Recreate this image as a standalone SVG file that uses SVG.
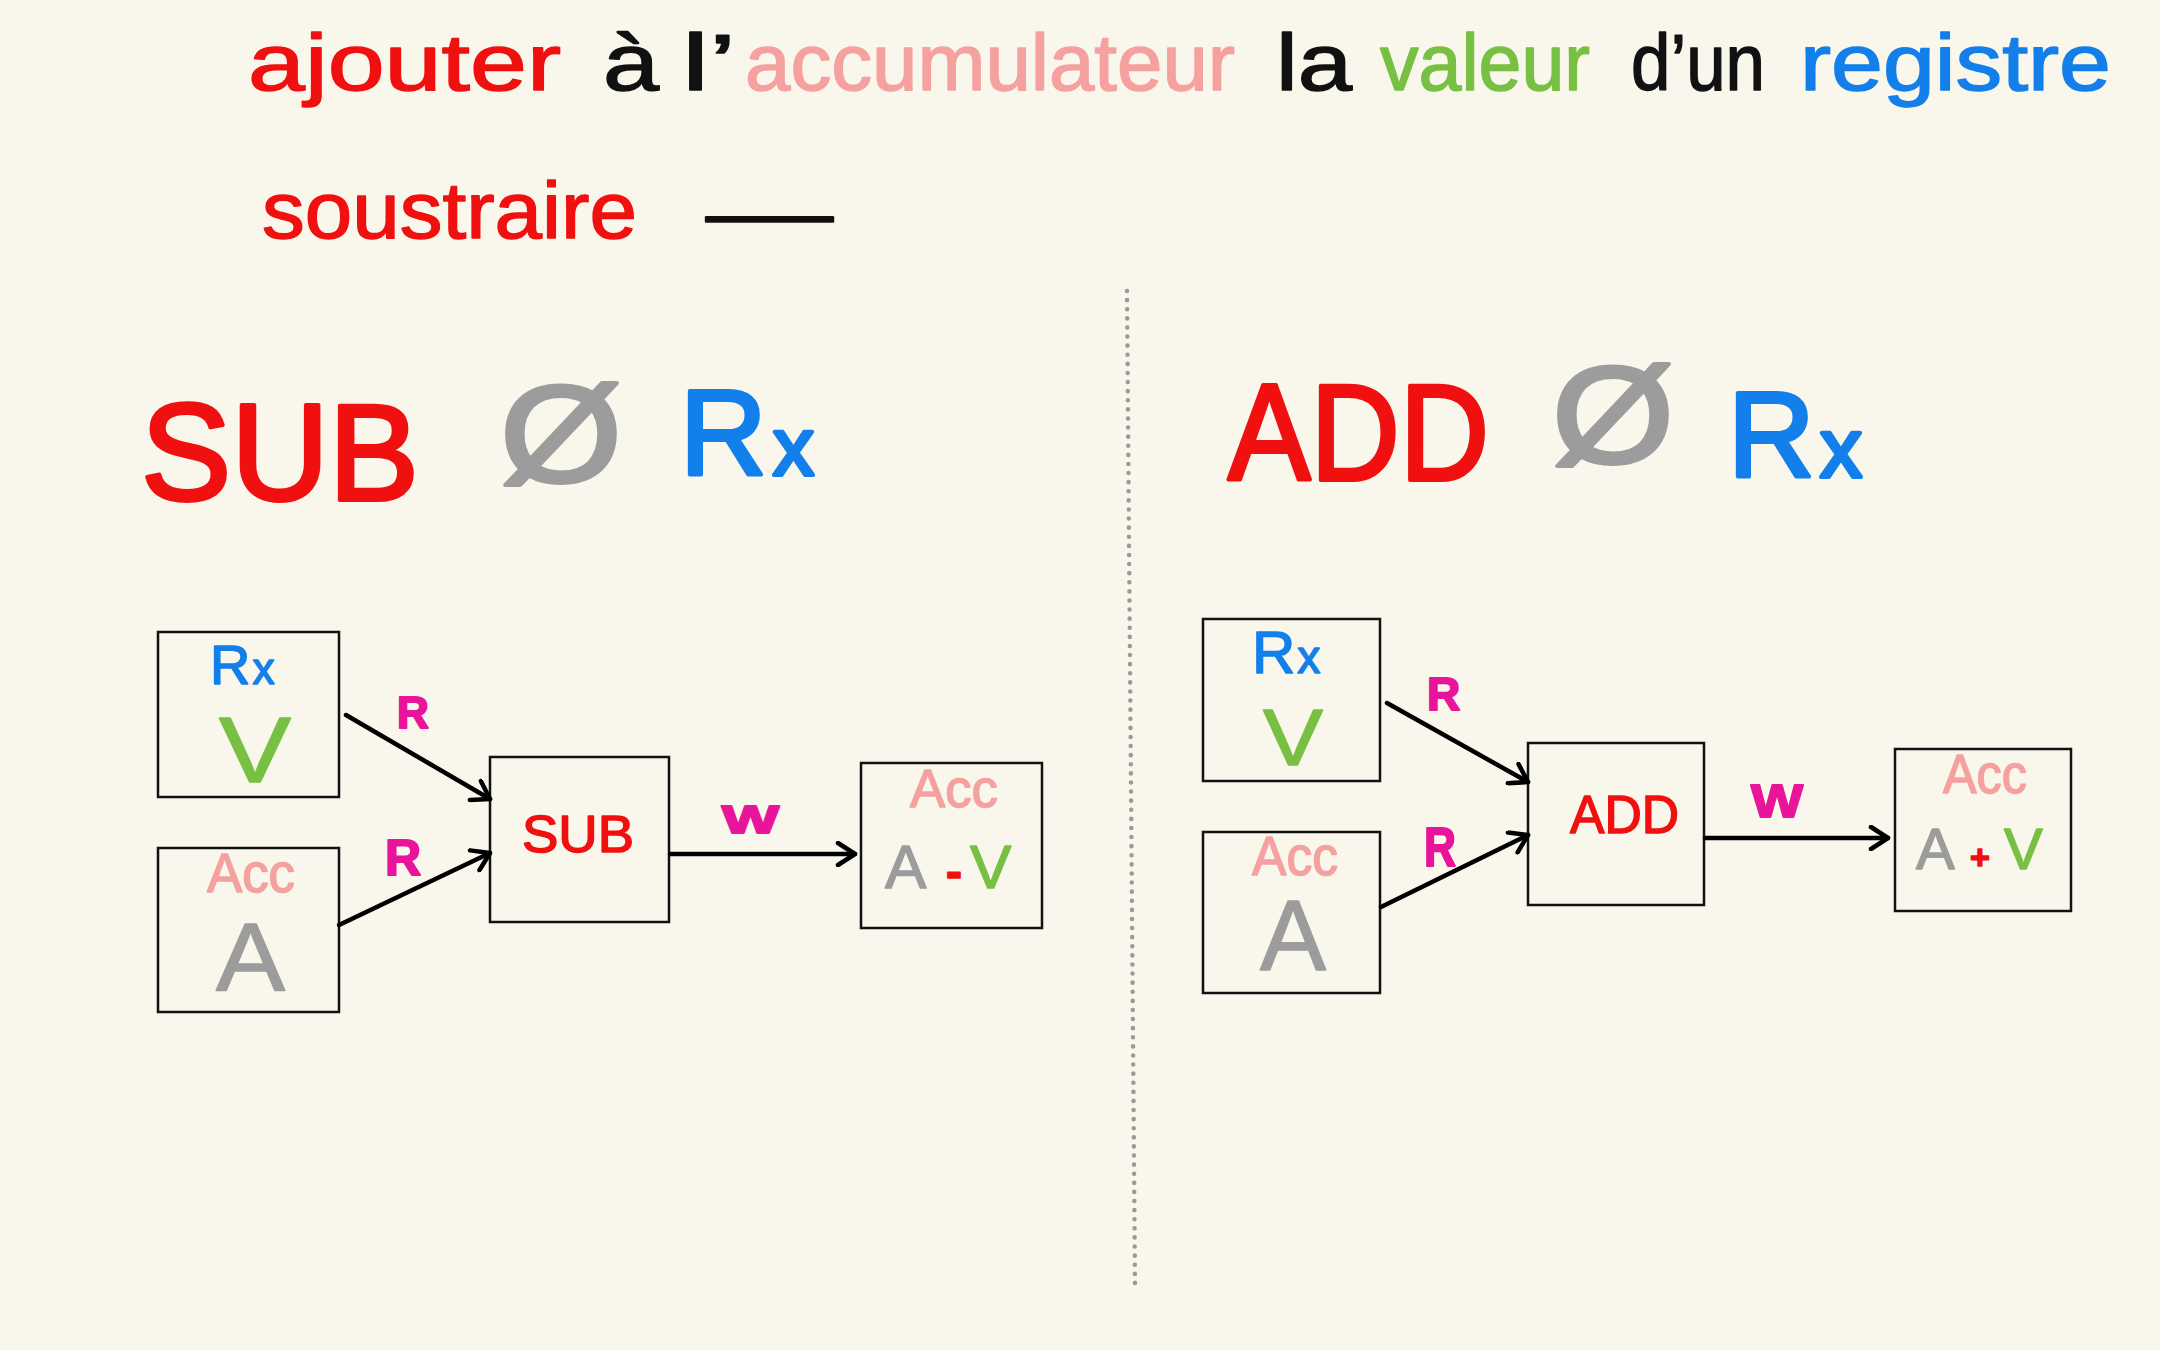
<svg xmlns="http://www.w3.org/2000/svg" width="2160" height="1350" viewBox="0 0 2160 1350">
<defs>
<style>
text{font-family:"Liberation Sans",Arial,sans-serif;}
.hw{font-size:80px;stroke-width:1.5px;stroke-linejoin:round;}
.head{font-size:138px;stroke-width:4px;stroke-linejoin:round;}
.red{fill:#F01010;stroke:#F01010;}
.blk{fill:#111;stroke:#111;}
.pink{fill:#F5A1A0;stroke:#F5A1A0;}
.grn{fill:#78C043;stroke:#78C043;}
.blue{fill:#137FEA;stroke:#137FEA;}
.gray{fill:#9C9C9C;stroke:#9C9C9C;}
.mag{fill:#E8159A;stroke:#E8159A;font-weight:bold;stroke-width:2px;stroke-linejoin:round;}
.box{fill:none;stroke:#111;stroke-width:2.5;}
.conn{stroke:#000;stroke-width:4.5;fill:none;stroke-linecap:round;marker-end:url(#ah);}
.lbl{stroke-width:1.5px;stroke-linejoin:round;}
</style>
<marker id="ah" viewBox="0 0 26 26" refX="23" refY="13" markerWidth="26" markerHeight="26" markerUnits="userSpaceOnUse" orient="auto">
<path d="M6,2 L23,13 L6,24" fill="none" stroke="#000" stroke-width="4.5" stroke-linecap="round" stroke-linejoin="round"/>
</marker>
</defs>
<rect width="2160" height="1350" fill="#F9F7EC"/>

<g id="title">
<text class="hw red" x="248" y="90" textLength="313" lengthAdjust="spacingAndGlyphs">ajouter</text>
<text class="hw blk" x="603" y="90" textLength="56" lengthAdjust="spacingAndGlyphs">à</text>
<text class="hw blk" x="682" y="90" textLength="54" lengthAdjust="spacingAndGlyphs">l’</text>
<text class="hw pink" x="745" y="90" textLength="490" lengthAdjust="spacingAndGlyphs">accumulateur</text>
<text class="hw blk" x="1276" y="90" textLength="76" lengthAdjust="spacingAndGlyphs">la</text>
<text class="hw grn" x="1380" y="90" textLength="210" lengthAdjust="spacingAndGlyphs">valeur</text>
<text class="hw blk" x="1631" y="90" textLength="134" lengthAdjust="spacingAndGlyphs">d’un</text>
<text class="hw blue" x="1800" y="90" textLength="311" lengthAdjust="spacingAndGlyphs">registre</text>
<text class="hw red" x="262" y="238" font-size="78" textLength="375" lengthAdjust="spacingAndGlyphs">soustraire</text>
<text class="hw blk" x="706" y="240" font-size="72" textLength="127" lengthAdjust="spacingAndGlyphs">—</text>
</g>

<g id="heading-sub">
<text class="head red" x="141" y="500" textLength="278" lengthAdjust="spacingAndGlyphs">SUB</text>
<text class="head gray" x="500" y="482" font-size="116" stroke-width="1" textLength="122" lengthAdjust="spacingAndGlyphs">Ø</text>
<text class="head blue" y="475" stroke-width="2"><tspan x="680" font-size="120">R</tspan><tspan x="773" font-size="82">x</tspan></text>
</g>

<g id="heading-add">
<text class="head red" x="1228" y="480" textLength="261" lengthAdjust="spacingAndGlyphs">ADD</text>
<text class="head gray" x="1552" y="463" font-size="112" stroke-width="1" textLength="122" lengthAdjust="spacingAndGlyphs">Ø</text>
<text class="head blue" y="477" stroke-width="2"><tspan x="1728" font-size="120">R</tspan><tspan x="1820" font-size="84">x</tspan></text>
</g>

<line x1="1127" y1="291" x2="1135" y2="1284" stroke="#9A9A9A" stroke-width="4.5" stroke-dasharray="0.1 9" stroke-linecap="round"/>

<g id="sub-rx">
<rect class="box" x="158" y="632" width="181" height="165"/>
<text class="lbl blue" x="210" y="684" font-size="56"><tspan>R</tspan><tspan font-size="44" dx="2">x</tspan></text>
<text class="lbl grn" x="219" y="782" font-size="92" textLength="72" lengthAdjust="spacingAndGlyphs">V</text>
</g>
<g id="sub-acc">
<rect class="box" x="158" y="848" width="181" height="164"/>
<text class="lbl pink" x="207" y="892" font-size="55" textLength="88" lengthAdjust="spacingAndGlyphs">Acc</text>
<text class="lbl gray" x="216" y="990" font-size="97" textLength="69" lengthAdjust="spacingAndGlyphs">A</text>
</g>
<g id="sub-op">
<rect class="box" x="490" y="757" width="179" height="165"/>
<text class="lbl red" x="522" y="852" font-size="52" textLength="112" lengthAdjust="spacingAndGlyphs">SUB</text>
</g>
<g id="sub-result">
<rect class="box" x="861" y="763" width="181" height="165"/>
<text class="lbl pink" x="910" y="807" font-size="54" textLength="88" lengthAdjust="spacingAndGlyphs">Acc</text>
<text class="lbl" y="888" font-size="62"><tspan class="gray" x="885">A</tspan><tspan class="red" x="946" font-size="48" font-weight="bold">-</tspan><tspan class="grn" x="970">V</tspan></text>
</g>

<g id="add-rx">
<rect class="box" x="1203" y="619" width="177" height="162"/>
<text class="lbl blue" x="1252" y="673" font-size="60"><tspan>R</tspan><tspan font-size="46" dx="2">x</tspan></text>
<text class="lbl grn" x="1263" y="765" font-size="80" textLength="60" lengthAdjust="spacingAndGlyphs">V</text>
</g>
<g id="add-acc">
<rect class="box" x="1203" y="832" width="177" height="161"/>
<text class="lbl pink" x="1252" y="875" font-size="55" textLength="86" lengthAdjust="spacingAndGlyphs">Acc</text>
<text class="lbl gray" x="1260" y="970" font-size="100" textLength="66" lengthAdjust="spacingAndGlyphs">A</text>
</g>
<g id="add-op">
<rect class="box" x="1528" y="743" width="176" height="162"/>
<text class="lbl red" x="1570" y="833" font-size="53" textLength="109" lengthAdjust="spacingAndGlyphs">ADD</text>
</g>
<g id="add-result">
<rect class="box" x="1895" y="749" width="176" height="162"/>
<text class="lbl pink" x="1943" y="793" font-size="55" textLength="84" lengthAdjust="spacingAndGlyphs">Acc</text>
<text class="lbl" y="869" font-size="58"><tspan class="gray" x="1916">A</tspan><tspan class="red" x="1970" font-size="34" font-weight="bold">+</tspan><tspan class="grn" x="2004">V</tspan></text>
</g>

<g id="connectors">
<line class="conn" x1="346" y1="715" x2="490" y2="799"/>
<line class="conn" x1="339" y1="925" x2="490" y2="853"/>
<line class="conn" x1="670" y1="854" x2="855" y2="854"/>
<line class="conn" x1="1387" y1="703" x2="1528" y2="782"/>
<line class="conn" x1="1381" y1="907" x2="1528" y2="835"/>
<line class="conn" x1="1705" y1="838" x2="1888" y2="838"/>
<text class="mag" x="397" y="728" font-size="44">R</text>
<text class="mag" x="385" y="875" font-size="50">R</text>
<text class="mag" x="722" y="833" font-size="38" textLength="57" lengthAdjust="spacingAndGlyphs">W</text>
<text class="mag" x="1427" y="710" font-size="46">R</text>
<text class="mag" x="1424" y="866" font-size="56" textLength="32" lengthAdjust="spacingAndGlyphs">R</text>
<text class="mag" x="1751" y="817" font-size="46" textLength="52" lengthAdjust="spacingAndGlyphs">W</text>
</g>
</svg>
